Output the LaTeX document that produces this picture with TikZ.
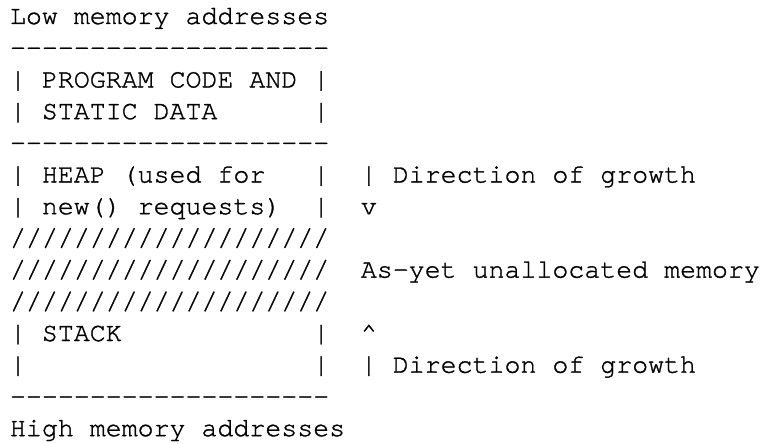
\documentclass[tikz,border=0pt]{standalone}
\usepackage{fontspec}
\setmonofont{texgyrecursor-regular.otf}[FakeBold=1.2]
\tikzset{
  txt/.style={anchor=base west, inner sep=0pt, outer sep=0pt,
    font=\ttfamily\fontsize{26.6}{31.7}\selectfont, text=black}
}
% column c -> x = 10 + 15.95 c ; line l -> y = -(24 + 31.7 l)
\newcommand{\cx}[1]{{(10+15.95*#1)*1pt}}
\newcommand{\ly}[1]{{-(24+31.7*#1)*1pt}}
\begin{document}
\begin{tikzpicture}
\useasboundingbox (0,0) rectangle (766pt,-444pt);
% line 0
\node[txt] (low) at (\cx{0},\ly{0}) {Low memory addresses};
% line 1
\node[txt] (dashA) at (\cx{0},\ly{1}) {--------------------};
% lines 2-3: program code box
\node[txt] (pl1) at (\cx{0},\ly{2}) {|};
\node[txt] (prog) at (\cx{2},\ly{2}) {PROGRAM CODE AND};
\node[txt] (pr1) at (\cx{19},\ly{2}) {|};
\node[txt] (pl2) at (\cx{0},\ly{3}) {|};
\node[txt] (stat) at (\cx{2},\ly{3}) {STATIC DATA};
\node[txt] (pr2) at (\cx{19},\ly{3}) {|};
% line 4
\node[txt] (dashB) at (\cx{0},\ly{4}) {--------------------};
% lines 5-6: heap
\node[txt] (hl1) at (\cx{0},\ly{5}) {|};
\node[txt] (heap) at (\cx{2},\ly{5}) {HEAP (used for};
\node[txt] (hr1) at (\cx{19},\ly{5}) {|};
\node[txt] (hbar) at (\cx{22},\ly{5}) {|};
\node[txt] (hdir) at (\cx{24},\ly{5}) {Direction of growth};
\node[txt] (hl2) at (\cx{0},\ly{6}) {|};
\node[txt] (newr) at (\cx{2},\ly{6}) {new() requests)};
\node[txt] (hr2) at (\cx{19},\ly{6}) {|};
\node[txt] (hv) at (\cx{22},\ly{6}) {v};
% lines 7-9: unallocated
\node[txt] (sl1) at (\cx{0},\ly{7}) {////////////////////};
\node[txt] (sl2) at (\cx{0},\ly{8}) {////////////////////};
\node[txt] (unal) at (\cx{22},\ly{8}) {As-yet unallocated memory};
\node[txt] (sl3) at (\cx{0},\ly{9}) {////////////////////};
% lines 10-11: stack
\node[txt] (sl) at (\cx{0},\ly{10}) {|};
\node[txt] (stack) at (\cx{2},\ly{10}) {STACK};
\node[txt] (sr) at (\cx{19},\ly{10}) {|};
\node[txt] (scaret) at (\cx{22},\ly{10}) {\textasciicircum};
\node[txt] (sl4) at (\cx{0},\ly{11}) {|};
\node[txt] (sr4) at (\cx{19},\ly{11}) {|};
\node[txt] (sbar) at (\cx{22},\ly{11}) {|};
\node[txt] (sdir) at (\cx{24},\ly{11}) {Direction of growth};
% line 12
\node[txt] (dashC) at (\cx{0},\ly{12}) {--------------------};
% line 13
\node[txt] (high) at (\cx{0},\ly{13}) {High memory addresses};
\end{tikzpicture}
\end{document}
